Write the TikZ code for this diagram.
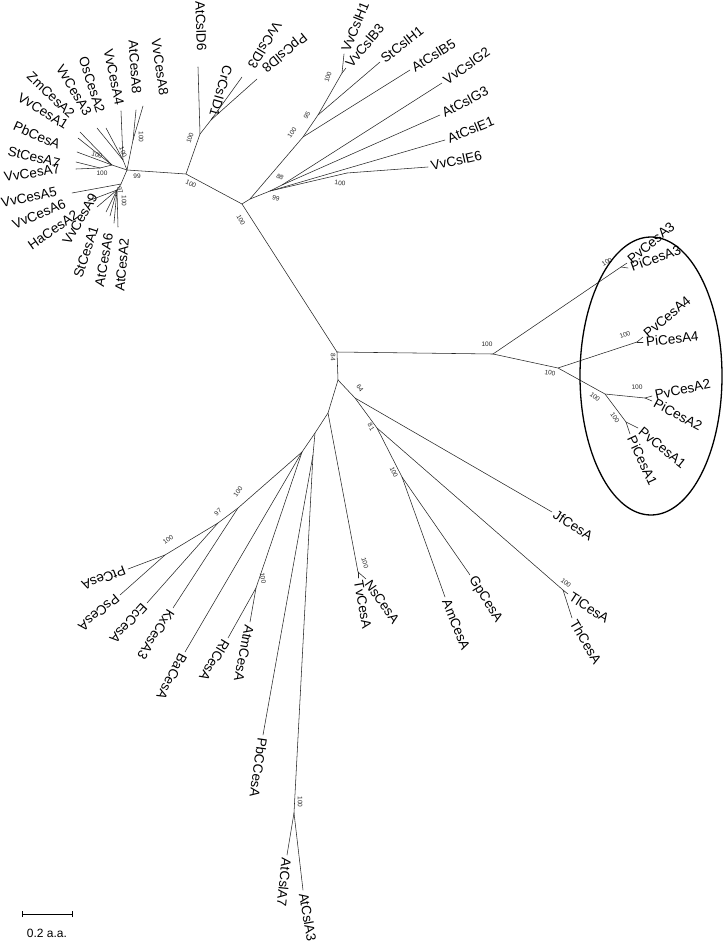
\documentclass[tikz,border=0pt]{standalone}
\usepackage{fontspec}
\setmainfont{Liberation Sans}
\usetikzlibrary{shapes.geometric}
\newcommand{\lfN}[5]{\coordinate (t#2) at (#3); \draw[br] (#1) -- (t#2); \node[lfn, rotate=#4] (l#2) at (t#2) {#5};}
\newcommand{\lfC}[6]{\coordinate (t#2) at (#3); \draw[br] (#1) -- (t#2); \node[lfc, rotate=#5] (l#2) at (#4) {#6};}
\newcommand{\bsl}[4]{\node[bs, rotate=#3] (#1) at (#2) {#4};}
\begin{document}
\begin{tikzpicture}[x=1pt,y=-1pt,
 br/.style={line width=0.55pt,line cap=round,draw=black!85},
 lfn/.style={font=\fontsize{13.5}{13.5}\selectfont, inner xsep=3pt, inner ysep=0pt, anchor=west},
 lfc/.style={font=\fontsize{13.5}{13.5}\selectfont, inner sep=0pt, anchor=center},
 bs/.style={font=\fontsize{6.5}{6.5}\selectfont, inner sep=0pt, text=black!85}]
\useasboundingbox (0,0) rectangle (727,945);
% internal nodes
\coordinate (C) at (337,352);
\coordinate (A) at (242,204);
\coordinate (F) at (250,199);
\coordinate (B) at (186,174);
\coordinate (D) at (127,170);
\coordinate (E) at (200,134);
\coordinate (E2) at (211,120);
\coordinate (G1) at (303,137);
\coordinate (G2) at (318,115);
\coordinate (G3) at (342,73);
\coordinate (Q1) at (270,191);
\coordinate (Q2) at (282,185);
\coordinate (QE) at (347,173);
\coordinate (a1) at (133,140);
\coordinate (a2) at (123,160);
\coordinate (a3) at (112,165);
\coordinate (a4) at (100,168);
\coordinate (b1) at (121,184);
\coordinate (b2) at (117,190);
\coordinate (R1) at (493,354);
\coordinate (P3) at (621,267);
\coordinate (R2) at (558,368);
\coordinate (P4) at (637,342);
\coordinate (R3) at (605,394);
\coordinate (P2) at (645,398);
\coordinate (R4) at (626,422);
\coordinate (L1) at (338,380);
\coordinate (M1) at (355,398);
\coordinate (M2) at (377,428);
\coordinate (M3) at (402,477);
\coordinate (T) at (563,590);
\coordinate (L2) at (328,413);
\coordinate (N1) at (358,572);
\coordinate (L3) at (315,433);
\coordinate (L4) at (302,452);
\coordinate (L5) at (313,455);
\coordinate (K1) at (238,508);
\coordinate (K2) at (218,523);
\coordinate (K3) at (165,555);
\coordinate (Am) at (256,588);
\coordinate (AC) at (294,813);
% backbone
\draw[br] (R1) -- (C) -- (A) -- (F);
\draw[br] (A) -- (B) -- (D);
\draw[br] (B) -- (E) -- (E2);
\draw[br] (F) -- (G1) -- (G2) -- (G3);
\draw[br] (F) -- (Q1) -- (Q2);
\draw[br] (Q1) -- (QE);
\draw[br] (D) -- (a1); \draw[br] (D) -- (a2); \draw[br] (D) -- (a3) -- (a4);
\draw[br] (D) -- (b1) -- (b2);
\draw[br] (R1) -- (P3); \draw[br] (R1) -- (R2) -- (P4); \draw[br] (R2) -- (R3) -- (P2); \draw[br] (R3) -- (R4);
\draw[br] (C) -- (L1) -- (M1) -- (M2) -- (M3); \draw[br] (M2) -- (T);
\draw[br] (L1) -- (L2) -- (N1); \draw[br] (L2) -- (L3) -- (L4) -- (K1) -- (K2) -- (K3);
\draw[br] (L4) -- (Am); \draw[br] (L3) -- (L5) -- (AC);
% top-left CesA leaves (labels read towards the tip)
\lfC{a1}{VvCesA8}{143,106}{160,67}{-82}{VvCesA8}
\lfC{a1}{AtCesA8}{136,110}{135,67}{-86}{AtCesA8}
\lfC{a2}{VvCesA4}{121,111}{114,77}{-78}{VvCesA4}
\lfC{a2}{OsCesA2}{106,128}{92,85}{-72}{OsCesA2}
\lfC{a2}{VvCesA3}{97,128}{74,90}{-59}{VvCesA3}
\lfC{a3}{ZmCesA2}{80,132}{51,95}{-44}{ZmCesA2}
\lfC{a3}{VvCesA1}{78,138}{43,111}{-32}{VvCesA1}
\lfC{a3}{PbCesA}{77,152}{37,135}{-24}{PbCesA}
\lfC{a4}{StCesA7}{76,162}{34,157}{-14}{StCesA7}
\lfC{a4}{VvCesA7}{76,169}{32,173}{9}{VvCesA7}
\lfC{b1}{VvCesA5}{72,193}{29,197}{12}{VvCesA5}
\lfC{b2}{VvCesA6}{88,201}{39,214}{23}{VvCesA6}
\lfC{b2}{HaCesA2}{97,207}{53,230}{35}{HaCesA2}
\lfC{b2}{VvCesA9}{106,212}{80,219}{60}{VvCesA9}
\lfC{b2}{StCesA1}{110,216}{86,252}{72}{StCesA1}
\lfC{b2}{AtCesA6}{114,223}{104,260}{80}{AtCesA6}
\lfC{b2}{AtCesA2}{118,227}{122,265}{85}{AtCesA2}
% D clade
\lfC{E}{AtCslD6}{198,67}{201,26}{-88}{AtCslD6}
\lfC{E2}{CrCsID1}{213,117}{221,91}{-106}{CrCsID1}
\lfC{E2}{VvCslD3}{242,77}{265,45}{-121}{VvCslD3}
\lfC{E2}{PpCslD8}{257,79}{284,52}{-141}{PpCslD8}
% Csl clade
\lfN{G3}{VvCslH1}{344,54}{68}{VvCslH1}
\lfN{G3}{VvCslB3}{346,68}{50}{VvCslB3}
\lfN{G2}{StCslH1}{380,62}{38}{StCslH1}
\lfN{G1}{AtCslB5}{410,70}{32}{AtCslB5}
\lfN{Q2}{VvCslG2}{442,83}{35}{VvCslG2}
\lfN{Q2}{AtCslG3}{440,115}{28}{AtCslG3}
\lfN{Q1}{AtCslE1}{445,140}{22}{AtCslE1}
\lfN{QE}{VvCslE6}{428,167}{13}{VvCslE6}
% right clade
\lfN{P3}{PvCesA3}{627,263}{40}{PvCesA3}
\lfN{P3}{PiCesA3}{628,268}{20}{PiCesA3}
\lfN{P4}{PvCesA4}{643,337}{40}{PvCesA4}
\lfN{P4}{PiCesA4}{643,342}{6}{PiCesA4}
\lfN{P2}{PvCesA2}{652,396}{12}{PvCesA2}
\lfN{P2}{PiCesA2}{652,401}{-28}{PiCesA2}
\lfN{R4}{PvCesA1}{638,428}{-39}{PvCesA1}
\lfN{R4}{PiCesA1}{630,434}{-65}{PiCesA1}
% bottom right
\lfN{M1}{JfCesA}{552,512}{-32}{JfCesA}
\lfN{T}{TlCesA}{568,594}{-33}{TlCesA}
\lfN{T}{ThCesA}{572,618}{-60}{ThCesA}
\lfN{M3}{GpCesA}{470,575}{-58}{GpCesA}
\lfN{M3}{AmCesA}{445,597}{-68}{AmCesA}
\lfN{N1}{NsCesA}{366,579}{-55}{NsCesA}
\lfN{N1}{TvCesA}{358,578}{-80}{TvCesA}
% bottom
\lfN{L5}{PbCCesA}{263,735}{-98}{PbCCesA}
\lfN{AC}{AtCslA7}{287,855}{-96}{AtCslA7}
\lfN{AC}{AtCslA3}{303,890}{-80}{AtCslA3}
\lfN{Am}{AtmCesA}{250,622}{-101}{AtmCesA}
\lfN{Am}{RlCesA}{228,638}{-121}{RlCesA}
\lfN{L4}{BaCesA}{185,652}{-118}{BaCesA}
\lfN{K1}{KxCesA3}{173,608}{-123}{KxCesA3}
\lfN{K2}{EcCesA}{147,603}{-132}{EcCesA}
\lfN{K3}{PsCesA}{120,595}{-140}{PsCesA}
\lfN{K3}{PtCesA}{128,569}{-159}{PtCesA}
% bootstrap values
\bsl{b01}{137,176}{0}{99}
\bsl{b02}{141,137}{-90}{100}
\bsl{b03}{123,152}{-70}{100}
\bsl{b04}{97,155}{-20}{100}
\bsl{b05}{102,173}{0}{100}
\bsl{b06}{120,190}{-75}{97}
\bsl{b07}{124,201}{-90}{100}
\bsl{b08}{191,184}{-25}{100}
\bsl{b09}{190,138}{70}{100}
\bsl{b10}{241,220}{-62}{100}
\bsl{b11}{276,198}{-15}{99}
\bsl{b12}{280,177}{-30}{88}
\bsl{b13}{292,133}{55}{100}
\bsl{b14}{307,115}{60}{95}
\bsl{b15}{328,77}{70}{100}
\bsl{b16}{340,183}{-5}{100}
\bsl{b17}{333,357}{-90}{84}
\bsl{b18}{487,344}{0}{100}
\bsl{b19}{607,262}{30}{100}
\bsl{b20}{550,373}{-10}{100}
\bsl{b21}{625,335}{20}{100}
\bsl{b22}{637,387}{5}{100}
\bsl{b23}{595,397}{-40}{100}
\bsl{b24}{615,418}{-55}{100}
\bsl{b25}{360,388}{-55}{64}
\bsl{b26}{371,427}{-60}{81}
\bsl{b27}{394,472}{-65}{100}
\bsl{b28}{566,583}{-40}{100}
\bsl{b29}{365,563}{-75}{100}
\bsl{b30}{238,492}{55}{100}
\bsl{b31}{218,512}{40}{97}
\bsl{b32}{168,540}{35}{100}
\bsl{b33}{263,578}{-80}{100}
\bsl{b34}{300,802}{-90}{100}
% ellipse
\node[draw, line width=1.3pt, ellipse, minimum width=142pt, minimum height=278pt, inner sep=0pt] (ell) at (651,376) {};
% scale bar
\coordinate (s1) at (22,914);
\coordinate (s2) at (72,914);
\draw[line width=0.9pt] (s1) -- (s2);
\draw[line width=0.9pt] ([yshift=-3pt]s1) -- ([yshift=3pt]s1);
\draw[line width=0.9pt] ([yshift=-3pt]s2) -- ([yshift=3pt]s2);
\node[font=\fontsize{12}{12}\selectfont, inner sep=0pt] (sbl) at (47,933) {0.2 a.a.};
\end{tikzpicture}
\end{document}
